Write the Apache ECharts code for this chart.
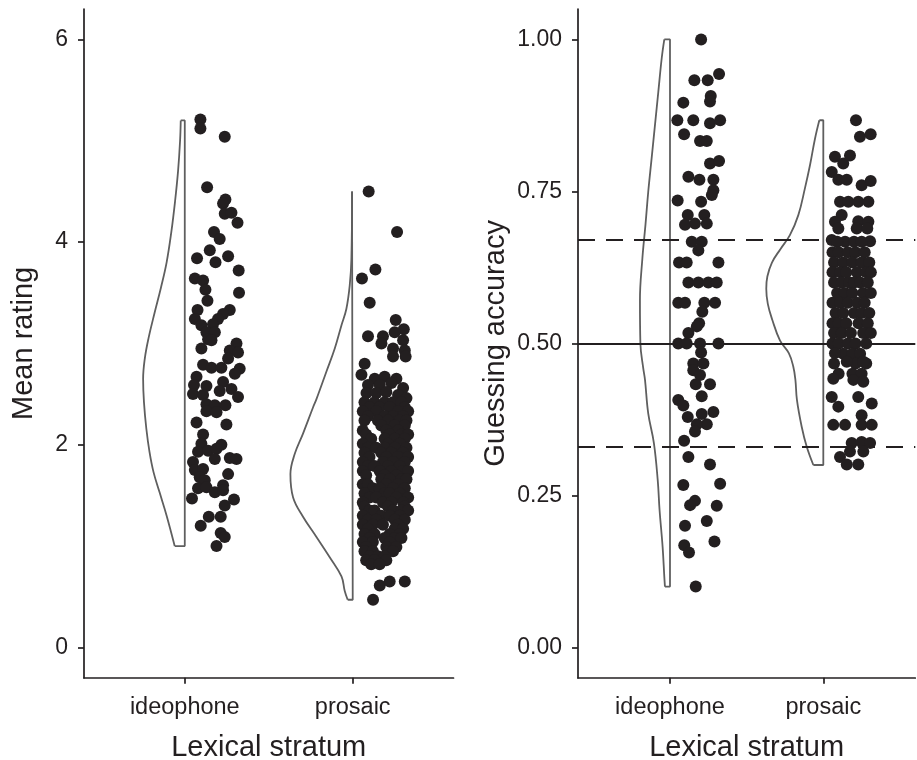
<!DOCTYPE html>
<html>
<head>
<meta charset="utf-8">
<script src="https://cdn.jsdelivr.net/npm/echarts@6/dist/echarts.min.js"></script>
<style>
  html, body { margin: 0; padding: 0; background: #fff; }
  #chart { width: 917px; height: 760px; }
</style>
</head>
<body>
<div id="chart"></div>
<script>
// categories on both panels (x positions 1 and 2)
const categories = ['ideophone', 'prosaic']

// tick values
const ratingTicks = [0, 2, 4, 6]
const accuracyTicks = [0, 0.25, 0.5, 0.75, 1]

// reference lines on the accuracy panel
const chanceLevel = 0.5
const thirdLevels = [0.3333, 0.6667]

// jittered points: [offset right of category, value]
const ratingIdeo = [
  [0.093,5.21],[0.093,5.12],[0.238,5.04],[0.133,4.54],[0.242,4.42],[0.228,4.38],[0.238,4.28],[0.278,4.29],
  [0.314,4.19],[0.174,4.10],[0.208,4.03],[0.149,3.92],[0.073,3.84],[0.183,3.80],[0.258,3.86],[0.321,3.72],
  [0.06,3.64],[0.109,3.62],[0.123,3.53],[0.323,3.50],[0.135,3.42],[0.076,3.33],[0.268,3.33],[0.228,3.29],
  [0.06,3.24],[0.198,3.24],[0.099,3.18],[0.168,3.19],[0.129,3.11],[0.179,3.11],[0.139,3.04],[0.099,2.95],
  [0.159,3.03],[0.308,3.00],[0.268,2.93],[0.317,2.91],[0.109,2.79],[0.159,2.76],[0.218,2.76],[0.258,2.85],
  [0.327,2.75],[0.298,2.70],[0.07,2.67],[0.055,2.59],[0.129,2.58],[0.228,2.62],[0.278,2.55],[0.049,2.50],
  [0.109,2.49],[0.208,2.53],[0.317,2.47],[0.129,2.40],[0.179,2.39],[0.242,2.39],[0.129,2.33],[0.189,2.32],
  [0.07,2.22],[0.248,2.20],[0.109,2.10],[0.099,2.01],[0.218,2.00],[0.079,1.93],[0.139,1.94],[0.189,1.96],
  [0.049,1.83],[0.179,1.86],[0.268,1.87],[0.308,1.86],[0.06,1.75],[0.109,1.76],[0.089,1.68],[0.119,1.65],
  [0.258,1.71],[0.079,1.57],[0.129,1.58],[0.179,1.53],[0.228,1.60],[0.228,1.55],[0.043,1.47],[0.293,1.46],
  [0.238,1.40],[0.143,1.29],[0.214,1.29],[0.095,1.20],[0.214,1.13],[0.238,1.09],[0.189,1.00]
]

const ratingPros = [
  [0.095,4.50],[0.264,4.10],[0.135,3.73],[0.055,3.64],[0.101,3.40],[0.256,3.23],[0.304,3.14],[0.091,3.07],
  [0.18,3.07],[0.25,3.11],[0.30,3.03],[0.171,3.00],[0.24,2.95],[0.31,2.93],[0.24,2.87],[0.315,2.87],
  [0.071,2.80],[0.052,2.69],[0.131,2.65],[0.19,2.67],[0.26,2.65],[0.091,2.59],[0.161,2.59],[0.23,2.61],
  [0.30,2.56],[0.082,2.51],[0.141,2.51],[0.20,2.52],[0.27,2.49],[0.32,2.46],
  [0.07,2.42],[0.13,2.42],[0.19,2.42],[0.24,2.42],[0.29,2.42],
  [0.10,2.37],[0.16,2.37],[0.22,2.37],[0.31,2.37],
  [0.06,2.33],[0.14,2.33],[0.27,2.33],[0.33,2.33],
  [0.09,2.28],[0.19,2.28],[0.24,2.28],[0.30,2.28],
  [0.07,2.24],[0.15,2.24],[0.21,2.24],[0.28,2.24],[0.32,2.24],
  [0.17,2.19],[0.25,2.19],[0.31,2.19],
  [0.06,2.14],[0.20,2.14],[0.27,2.14],
  [0.08,2.10],[0.22,2.10],[0.29,2.10],[0.33,2.10],
  [0.11,2.06],[0.19,2.06],[0.25,2.06],[0.31,2.06],
  [0.06,2.01],[0.21,2.01],[0.28,2.01],
  [0.09,1.97],[0.14,1.97],[0.19,1.97],[0.25,1.97],[0.32,1.97],
  [0.07,1.92],[0.17,1.92],[0.23,1.92],[0.30,1.92],
  [0.10,1.88],[0.20,1.88],[0.27,1.88],[0.33,1.88],
  [0.06,1.83],[0.18,1.83],[0.24,1.83],[0.31,1.83],
  [0.09,1.79],[0.13,1.79],[0.21,1.79],[0.28,1.79],
  [0.06,1.74],[0.16,1.74],[0.23,1.74],[0.30,1.74],[0.33,1.74],
  [0.08,1.70],[0.19,1.70],[0.26,1.70],
  [0.17,1.66],[0.22,1.66],[0.29,1.66],[0.32,1.66],
  [0.06,1.61],[0.09,1.61],[0.20,1.61],[0.27,1.61],
  [0.12,1.57],[0.16,1.57],[0.24,1.57],[0.31,1.57],
  [0.07,1.52],[0.19,1.52],[0.22,1.52],[0.28,1.52],
  [0.10,1.48],[0.14,1.48],[0.26,1.48],[0.33,1.48],
  [0.06,1.43],[0.18,1.43],[0.23,1.43],[0.30,1.43],
  [0.07,1.39],[0.21,1.39],[0.31,1.39],
  [0.10,1.35],[0.13,1.35],[0.24,1.35],[0.29,1.35],[0.33,1.35],
  [0.06,1.30],[0.17,1.30],[0.22,1.30],[0.28,1.30],
  [0.09,1.26],[0.14,1.26],[0.25,1.26],[0.31,1.26],
  [0.06,1.21],[0.12,1.21],[0.18,1.21],[0.27,1.21],
  [0.09,1.17],[0.25,1.17],[0.30,1.17],
  [0.07,1.12],[0.13,1.12],[0.22,1.12],[0.28,1.12],
  [0.10,1.08],[0.19,1.08],[0.25,1.08],[0.29,1.08],
  [0.06,1.04],[0.12,1.04],[0.22,1.04],
  [0.08,0.99],[0.20,0.99],[0.26,0.99],
  [0.07,0.95],[0.12,0.95],[0.21,0.95],[0.24,0.95],
  [0.10,0.90],[0.15,0.90],[0.19,0.90],
  [0.08,0.86],[0.13,0.86],[0.20,0.86],
  [0.11,0.82],[0.16,0.82],
  [0.161,0.61],[0.22,0.65],[0.31,0.65],[0.121,0.47]
]

const accIdeo = [
  [0.203,1.0],[0.159,0.933],[0.246,0.933],[0.32,0.943],[0.266,0.907],[0.261,0.898],[0.087,0.896],[0.048,0.867],
  [0.152,0.867],[0.261,0.862],[0.327,0.867],[0.092,0.844],[0.196,0.833],[0.24,0.833],[0.261,0.796],[0.32,0.80],
  [0.12,0.774],[0.192,0.769],[0.283,0.769],[0.283,0.752],[0.273,0.744],[0.05,0.735],[0.203,0.733],[0.116,0.711],
  [0.224,0.711],[0.098,0.695],[0.163,0.697],[0.24,0.697],[0.142,0.667],[0.207,0.667],[0.185,0.653],[0.059,0.633],
  [0.109,0.633],[0.316,0.633],[0.12,0.60],[0.185,0.60],[0.25,0.60],[0.305,0.60],[0.054,0.567],[0.098,0.567],
  [0.224,0.567],[0.294,0.567],[0.211,0.552],[0.19,0.533],[0.175,0.528],[0.12,0.517],[0.054,0.50],[0.109,0.50],
  [0.196,0.50],[0.316,0.50],[0.203,0.485],[0.152,0.467],[0.218,0.467],[0.152,0.456],[0.196,0.448],[0.168,0.433],
  [0.261,0.433],[0.207,0.413],[0.054,0.407],[0.087,0.398],[0.116,0.379],[0.207,0.384],[0.283,0.387],[0.24,0.367],
  [0.175,0.367],[0.163,0.355],[0.092,0.34],[0.12,0.313],[0.261,0.301],[0.087,0.267],[0.327,0.269],[0.163,0.241],
  [0.131,0.234],[0.305,0.233],[0.24,0.208],[0.098,0.20],[0.29,0.174],[0.093,0.168],[0.124,0.156],[0.168,0.10]
]

const accPros = [
  [0.213,0.867],[0.239,0.84],[0.309,0.844],[0.076,0.807],[0.13,0.796],[0.174,0.809],[0.055,0.782],[0.098,0.769],
  [0.153,0.769],[0.25,0.76],[0.309,0.767],[0.109,0.733],[0.163,0.733],[0.228,0.733],[0.294,0.733],[0.12,0.711],
  [0.076,0.70],[0.228,0.701],[0.294,0.70],[0.098,0.689],[0.218,0.689],[0.287,0.689],[0.055,0.67],[0.142,0.667],
  [0.305,0.668],[0.09,0.667],[0.20,0.667],[0.25,0.667],
  [0.06,0.65],[0.10,0.65],[0.16,0.65],[0.21,0.65],[0.27,0.65],
  [0.07,0.633],[0.13,0.633],[0.19,0.633],[0.25,0.633],[0.30,0.633],
  [0.06,0.617],[0.11,0.617],[0.15,0.617],[0.22,0.617],[0.28,0.617],[0.31,0.617],
  [0.07,0.60],[0.12,0.60],[0.17,0.60],[0.20,0.60],[0.24,0.60],[0.29,0.60],
  [0.09,0.583],[0.14,0.583],[0.19,0.583],[0.26,0.583],[0.31,0.583],
  [0.06,0.567],[0.11,0.567],[0.16,0.567],[0.22,0.567],[0.27,0.567],
  [0.08,0.55],[0.13,0.55],[0.20,0.55],[0.25,0.55],[0.30,0.55],
  [0.06,0.533],[0.10,0.533],[0.15,0.533],[0.23,0.533],[0.29,0.533],
  [0.07,0.517],[0.12,0.517],[0.18,0.517],[0.26,0.517],[0.31,0.517],
  [0.06,0.50],[0.10,0.50],[0.16,0.50],[0.21,0.50],[0.28,0.50],
  [0.13,0.483],[0.19,0.483],[0.24,0.483],
  [0.07,0.467],[0.21,0.467],[0.28,0.467],
  [0.10,0.45],[0.19,0.45],[0.25,0.45],
  [0.076,0.484],[0.153,0.47],[0.261,0.47],[0.065,0.442],[0.196,0.44],[0.261,0.437],[0.055,0.412],[0.228,0.412],
  [0.316,0.401],[0.098,0.396],[0.25,0.382],[0.065,0.366],[0.142,0.366],[0.25,0.366],[0.316,0.366],[0.185,0.336],
  [0.25,0.338],[0.305,0.336],[0.174,0.322],[0.261,0.322],[0.109,0.313],[0.153,0.301],[0.228,0.301]
]

// half violins: [value, half width to the left of the category]
const ratingIdeoShape = [
  [5.20,0.024],[5.00,0.028],[4.70,0.04],[4.40,0.058],[4.10,0.08],[3.80,0.108],[3.55,0.142],[3.30,0.18],
  [3.05,0.216],[2.85,0.238],[2.65,0.248],[2.42,0.243],[2.16,0.229],[1.93,0.21],[1.73,0.186],[1.53,0.15],
  [1.30,0.108],[1.00,0.06]
]
const ratingProsShape = [
  [4.50,0.004],[3.83,0.008],[3.57,0.018],[3.34,0.038],[3.18,0.067],[2.95,0.107],[2.72,0.157],[2.45,0.216],
  [2.37,0.236],[2.11,0.296],[1.91,0.345],[1.71,0.371],[1.48,0.355],[1.29,0.296],[1.09,0.216],[0.89,0.137],
  [0.70,0.067],[0.56,0.048],[0.47,0.03]
]
const accIdeoShape = [
  [1.0,0.037],[0.969,0.054],[0.914,0.076],[0.859,0.098],[0.804,0.12],[0.749,0.142],[0.695,0.16],[0.64,0.18],
  [0.571,0.196],[0.50,0.193],[0.46,0.175],[0.44,0.163],[0.385,0.142],[0.336,0.105],[0.275,0.08],[0.226,0.068],
  [0.165,0.048],[0.116,0.037],[0.10,0.033]
]
const accProsShape = [
  [0.867,0.026],[0.837,0.054],[0.793,0.087],[0.755,0.12],[0.711,0.163],[0.678,0.218],[0.655,0.28],[0.633,0.335],
  [0.61,0.365],[0.59,0.372],[0.565,0.362],[0.539,0.333],[0.505,0.283],[0.484,0.225],[0.462,0.196],[0.44,0.182],
  [0.407,0.172],[0.363,0.141],[0.33,0.108],[0.30,0.065]
]

const ink = '#231f20'
const violinColor = '#5f5f5f'
const font = 'Liberation Sans, Arial, Helvetica, sans-serif'

function cloud (points, cat, idx) {
  return {
    type: 'scatter', xAxisIndex: idx, yAxisIndex: idx, silent: true, z: 3,
    symbolSize: 12, itemStyle: { color: ink, opacity: 1 },
    data: points.map(p => [cat + p[0], p[1]])
  }
}

function violin (shape, cat, idx) {
  const top = shape[0]
  const bot = shape[shape.length - 1]
  const base = {
    type: 'line', xAxisIndex: idx, yAxisIndex: idx, silent: true, z: 2,
    symbol: 'none', lineStyle: { color: violinColor, width: 1.8 }
  }
  return [
    Object.assign({}, base, { smooth: 0.4, data: shape.map(s => [cat - s[1], s[0]]) }),
    Object.assign({}, base, {
      smooth: false,
      data: [[cat - top[1], top[0]], [cat, top[0]], [cat, bot[0]], [cat - bot[1], bot[0]]]
    })
  ]
}

function xAxisFor (idx) {
  return {
    gridIndex: idx, type: 'value', min: 0.4, max: 2.6,
    splitLine: { show: false },
    axisLine: { onZero: false, lineStyle: { color: ink, width: 1.7 } },
    axisTick: { customValues: [1, 2], length: 6, lineStyle: { color: ink, width: 1.7 } },
    axisLabel: {
      customValues: [1, 2], formatter: v => categories[Math.round(v) - 1],
      color: ink, fontSize: 23.5, margin: 18, fontFamily: font
    },
    name: 'Lexical stratum', nameLocation: 'middle', nameGap: 56,
    nameTextStyle: { color: ink, fontSize: 29, fontFamily: font }
  }
}

function yAxisFor (idx, min, max, ticks, fmt, name, gap) {
  return {
    gridIndex: idx, type: 'value', min: min, max: max,
    splitLine: { show: false },
    axisLine: { onZero: false, lineStyle: { color: ink, width: 1.7 } },
    axisTick: { customValues: ticks, length: 6, lineStyle: { color: ink, width: 1.7 } },
    axisLabel: { customValues: ticks, formatter: fmt, color: ink, fontSize: 23, margin: 16, fontFamily: font },
    name: name, nameLocation: 'middle', nameGap: gap, nameRotate: 90,
    nameTextStyle: { color: ink, fontSize: 29, fontFamily: font }
  }
}

const linesSeries = cloud(accPros, 2, 1)
linesSeries.markLine = {
  silent: true, symbol: 'none', label: { show: false }, animation: false,
  lineStyle: { color: ink, width: 2 },
  data: [
    { yAxis: chanceLevel, lineStyle: { type: 'solid', color: ink, width: 2 } },
    { yAxis: thirdLevels[0], lineStyle: { type: [17, 11], color: ink, width: 2 } },
    { yAxis: thirdLevels[1], lineStyle: { type: [17, 11], color: ink, width: 2 } }
  ]
}

const chart = echarts.init(document.getElementById('chart'))
chart.setOption({
  animation: false,
  backgroundColor: '#fff',
  textStyle: { fontFamily: font },
  grid: [
    { left: 84, top: 9, width: 369.5, height: 668.8, containLabel: false, outerBoundsMode: 'none' },
    { left: 578, top: 9, width: 337.3, height: 668.8, containLabel: false, outerBoundsMode: 'none' }
  ],
  xAxis: [xAxisFor(0), xAxisFor(1)],
  yAxis: [
    yAxisFor(0, -0.3, 6.3, ratingTicks, v => String(v), 'Mean rating', 46),
    yAxisFor(1, -0.05, 1.05, accuracyTicks, v => v.toFixed(2), 'Guessing accuracy', 68)
  ],
  series: [
    ...violin(ratingIdeoShape, 1, 0),
    ...violin(ratingProsShape, 2, 0),
    cloud(ratingIdeo, 1, 0),
    cloud(ratingPros, 2, 0),
    ...violin(accIdeoShape, 1, 1),
    ...violin(accProsShape, 2, 1),
    cloud(accIdeo, 1, 1),
    linesSeries
  ]
})
</script>
</body>
</html>
